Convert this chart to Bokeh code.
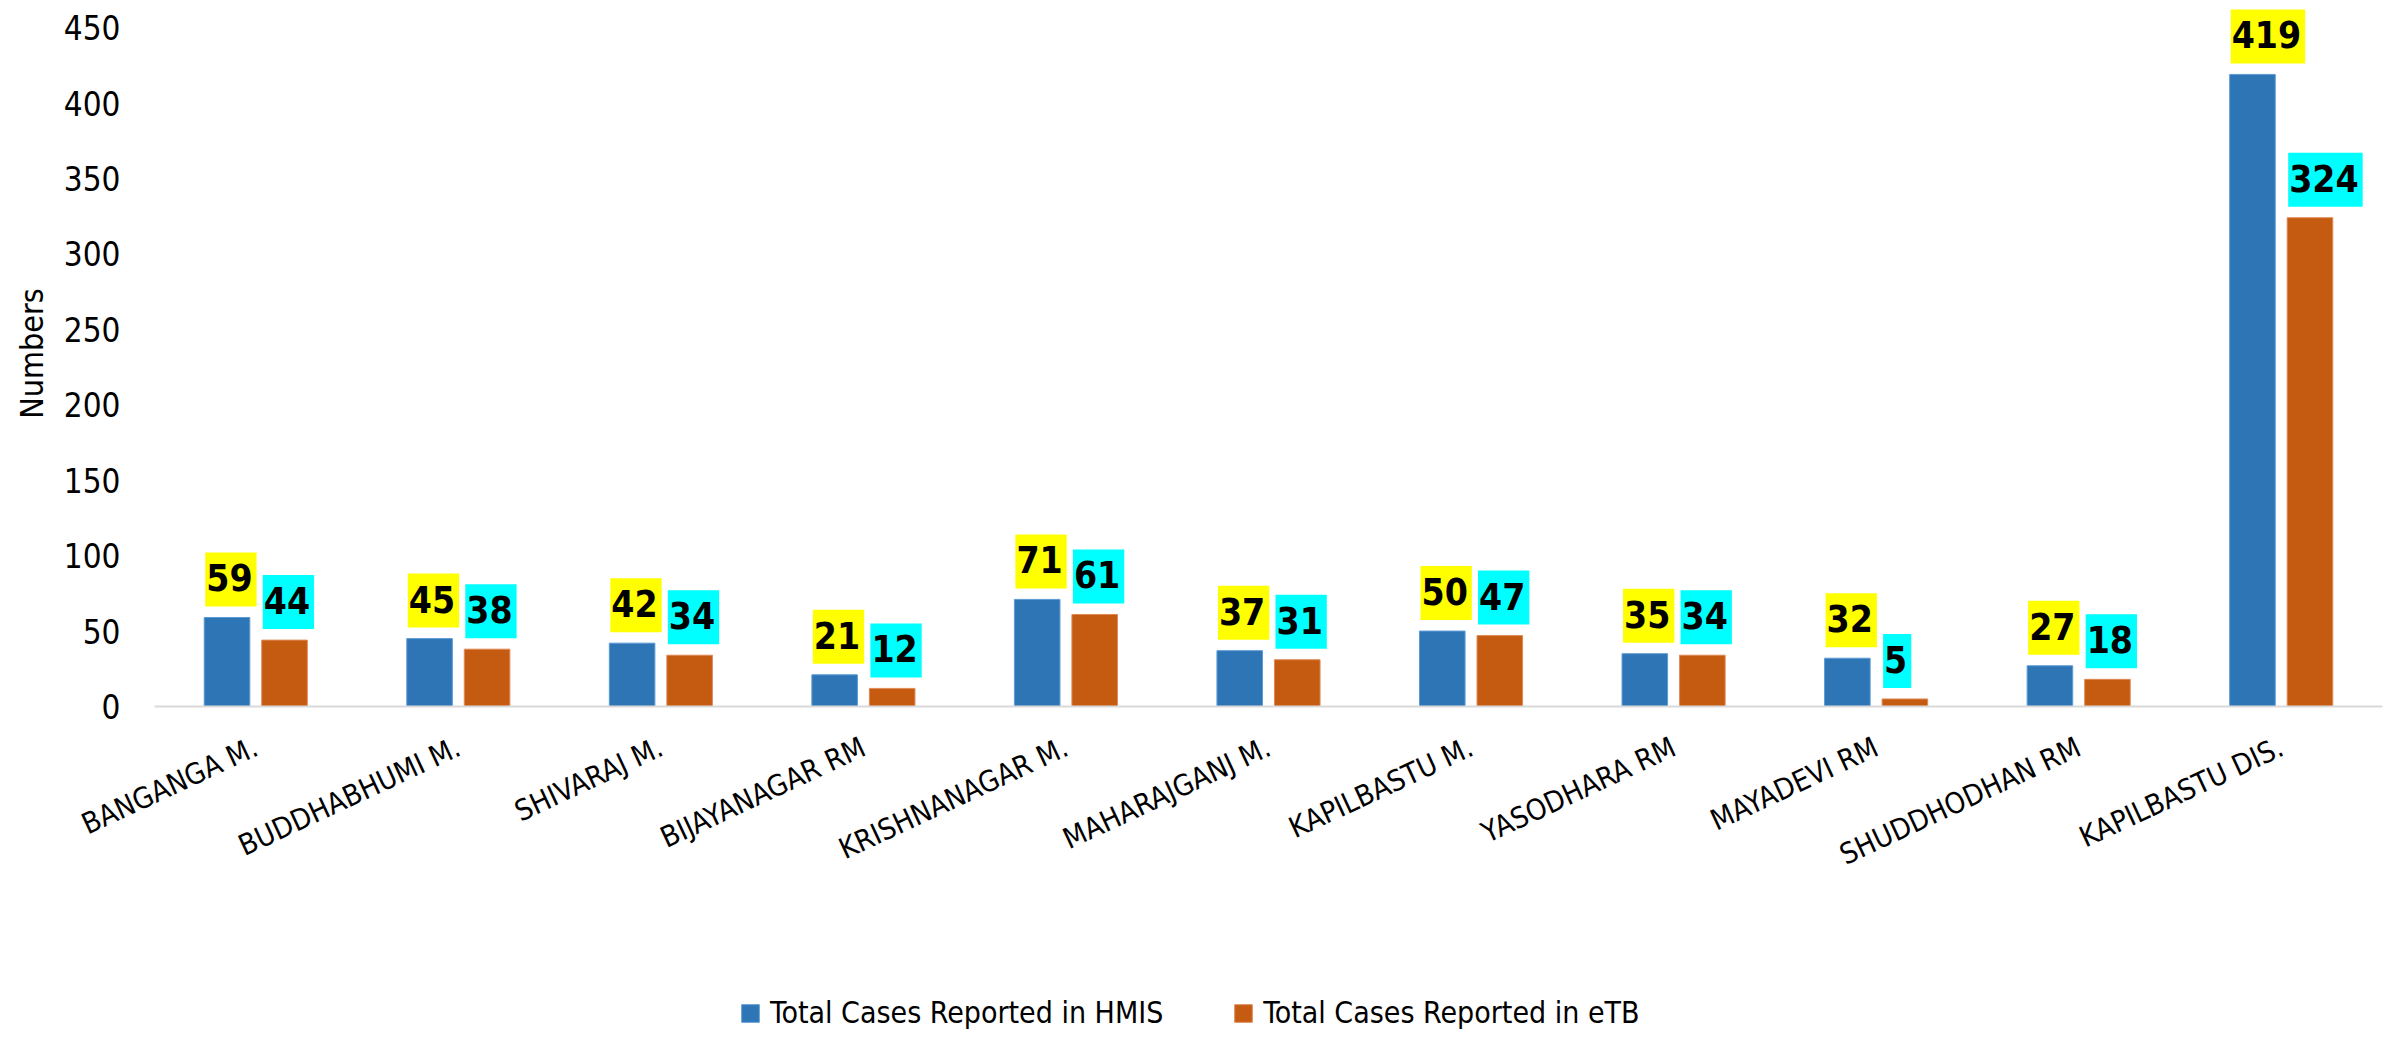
import math
from bokeh.plotting import figure
from bokeh.layouts import column
from bokeh.models import ColumnDataSource, FactorRange, Legend, LegendItem
from bokeh.transform import dodge
from bokeh.core.properties import value
from bokeh.embed import file_html
from bokeh.resources import INLINE

categories = ["BANGANGA M.", "BUDDHABHUMI M.", "SHIVARAJ M.", "BIJAYANAGAR RM",
              "KRISHNANAGAR M.", "MAHARAJGANJ M.", "KAPILBASTU M.", "YASODHARA RM",
              "MAYADEVI RM", "SHUDDHODHAN RM", "KAPILBASTU DIS."]
hmis = [59, 45, 42, 21, 71, 37, 50, 35, 32, 27, 419]
etb = [44, 38, 34, 12, 61, 31, 47, 34, 5, 18, 324]
y_ticks = [0, 50, 100, 150, 200, 250, 300, 350, 400, 450]
series_names = ["Total Cases Reported in HMIS", "Total Cases Reported in eTB"]
y_title = "Numbers"

FONT = "DejaVu Sans Condensed"
BLUE = "#2E75B6"
ORANGE = "#C55A11"
BLUE_EDGE = "#5B9BD5"
ORANGE_EDGE = "#E08A55"

source = ColumnDataSource(dict(
    cat=categories, hmis=hmis, etb=etb,
    hmis_txt=[str(v) for v in hmis], etb_txt=[str(v) for v in etb],
))

x_range = FactorRange(factors=categories, range_padding=0)
# range runs a little past the top tick so the tallest label box has room
p = figure(x_range=x_range, y_range=(0, 468), width=2400, height=960,
           output_backend="svg", toolbar_location=None,
           min_border_left=154, min_border_right=18,
           min_border_top=0, min_border_bottom=254)

off = 0.142
bw = 0.225
p.vbar(x=dodge("cat", -off, range=x_range), top="hmis", width=bw,
       source=source, fill_color=BLUE, line_color=BLUE_EDGE, line_width=1)
p.vbar(x=dodge("cat", off, range=x_range), top="etb", width=bw,
       source=source, fill_color=ORANGE, line_color=ORANGE_EDGE, line_width=1)

common = dict(text_align="left", text_baseline="bottom", y_offset=-11, x_offset=1,
              text_font=value(FONT), text_font_style="bold", text_font_size="37px",
              text_color="black", padding=dict(left=1, right=4, top=12, bottom=15))
p.text(x=dodge("cat", -off - bw / 2, range=x_range), y="hmis", text="hmis_txt",
       source=source, background_fill_color="#FFFF00", **common)
p.text(x=dodge("cat", off - bw / 2, range=x_range), y="etb", text="etb_txt",
       source=source, background_fill_color="#00FFFF", **common)

p.xgrid.grid_line_color = None
p.ygrid.grid_line_color = None
p.outline_line_color = None

p.yaxis.ticker = y_ticks
p.yaxis.axis_line_color = None
p.yaxis.major_tick_line_color = None
p.yaxis.minor_tick_line_color = None
p.yaxis.major_label_text_font = FONT
p.yaxis.major_label_text_font_size = "33px"
p.yaxis.major_label_text_color = "black"
p.yaxis.major_label_standoff = 28
p.yaxis.axis_label = y_title
p.yaxis.axis_label_text_font = FONT
p.yaxis.axis_label_text_font_size = "32px"
p.yaxis.axis_label_text_font_style = "normal"
p.yaxis.axis_label_text_color = "black"
p.yaxis.axis_label_standoff = 10

p.xaxis.axis_line_color = "#D9D9D9"
p.xaxis.axis_line_width = 2
p.xaxis.major_tick_line_color = None
p.xaxis.minor_tick_line_color = None
p.xaxis.major_label_orientation = math.radians(25)
p.xaxis.major_label_text_font = FONT
p.xaxis.major_label_text_font_size = "29px"
p.xaxis.major_label_text_color = "black"
p.xaxis.major_label_standoff = 33

# legend strip under the chart (bars here sit below its visible y range)
q = figure(width=2400, height=77, x_range=x_range, y_range=(1000, 1001),
           output_backend="svg", toolbar_location=None,
           x_axis_type=None, y_axis_type=None,
           min_border_left=0, min_border_right=0, min_border_top=0, min_border_bottom=0)
q.outline_line_color = None
q.xgrid.grid_line_color = None
q.ygrid.grid_line_color = None
r1 = q.vbar(x="cat", top="hmis", width=bw, source=source,
            fill_color=BLUE, line_color=BLUE_EDGE)
r2 = q.vbar(x="cat", top="etb", width=bw, source=source,
            fill_color=ORANGE, line_color=ORANGE_EDGE)
legend = Legend(items=[LegendItem(label=series_names[0], renderers=[r1]),
                       LegendItem(label=series_names[1], renderers=[r2])],
                orientation="horizontal", location=(585, 7),
                label_text_font=FONT, label_text_font_size="30px",
                label_text_color="black",
                glyph_width=22, glyph_height=22, label_standoff=9,
                spacing=69, padding=0, margin=0,
                border_line_color=None, background_fill_alpha=0)
q.add_layout(legend)

layout = column(p, q, spacing=0)
open("out.html", "w").write(file_html(layout, INLINE))
